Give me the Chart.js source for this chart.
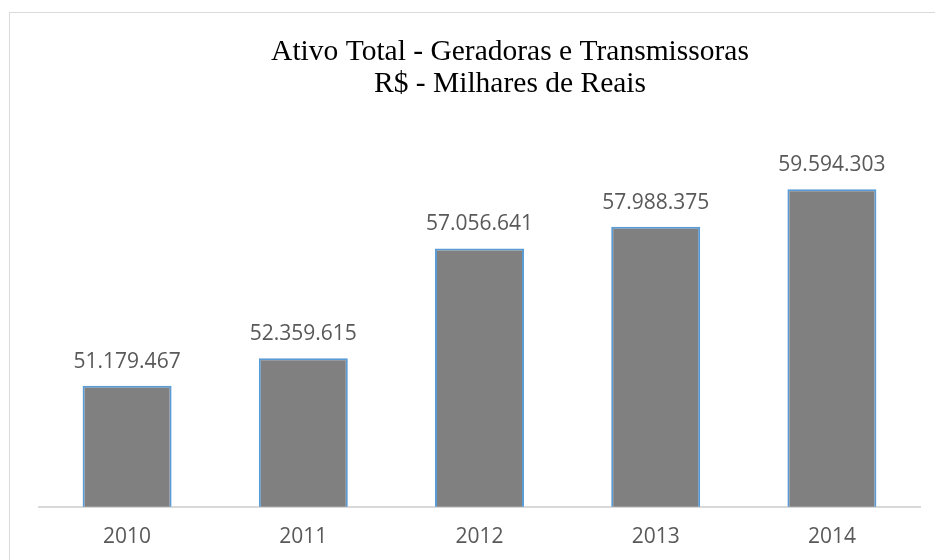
<!DOCTYPE html>
<html>
<head>
<meta charset="utf-8">
<script src="https://cdn.jsdelivr.net/npm/chart.js@4"></script>
<style>
  html, body { margin: 0; padding: 0; background: #fff; overflow: hidden; width: 935px; height: 560px; }
  #frame { position: absolute; left: 9px; top: 12px; width: 1100px; height: 700px; border: 1px solid #d9d9d9; }
  #chart { position: absolute; left: 10px; top: 13px; }
</style>
</head>
<body>
<div id="frame"></div>
<canvas id="chart" width="1000" height="560"></canvas>
<script>
// chart data
const years = ['2010', '2011', '2012', '2013', '2014'];
const ativoTotal = [51179467, 52359615, 57056641, 57988375, 59594303];
const titleLines = ['Ativo Total - Geradoras e Transmissoras', 'R$ - Milhares de Reais'];

// format like 51.179.467
function formatBR(v) {
    return String(Math.round(v)).replace(/\B(?=(\d{3})+(?!\d))/g, '.');
}

// draws the value above each bar
const valueLabels = {
    id: 'valueLabels',
    afterDatasetsDraw(chart) {
        const ctx = chart.ctx;
        const meta = chart.getDatasetMeta(0);
        ctx.save();
        ctx.font = '21px "Open Sans"';
        ctx.fillStyle = '#595959';
        ctx.textAlign = 'center';
        ctx.textBaseline = 'alphabetic';
        meta.data.forEach((bar, i) => {
            ctx.fillText(formatBR(chart.data.datasets[0].data[i]), bar.x, bar.y - 18);
        });
        ctx.restore();
    }
};

new Chart(document.getElementById('chart'), {
    type: 'bar',
    data: {
        labels: years,
        datasets: [{
            data: ativoTotal,
            backgroundColor: '#808080',
            borderColor: '#5B9BD5',
            borderWidth: 2,
            borderSkipped: false,
            barPercentage: 0.505,
            categoryPercentage: 1
        }]
    },
    options: {
        responsive: false,
        animation: false,
        layout: { padding: { left: 0, right: 0, top: 0, bottom: 5 } },
        plugins: {
            legend: { display: false },
            tooltip: { enabled: false },
            title: {
                display: true,
                text: titleLines,
                color: '#000',
                font: { family: '"Liberation Serif", "Times New Roman", serif', size: 29.5, weight: 'normal', lineHeight: 32 / 29.5 },
                padding: { top: 23, bottom: 33 }
            }
        },
        scales: {
            x: {
                grid: { display: false, drawTicks: false },
                border: { display: true, color: '#d9d9d9', width: 2 },
                ticks: {
                    color: '#595959',
                    font: { family: '"Open Sans"', size: 21 },
                    padding: 18
                }
            },
            y: {
                min: 46000000,
                max: 62000000,
                grid: { display: false, drawTicks: false },
                border: { display: false },
                ticks: { display: false },
                afterFit(scale) { scale.width = 29; }
            },
            yRight: {
                type: 'linear',
                position: 'right',
                grid: { display: false, drawTicks: false },
                border: { display: false },
                ticks: { display: false },
                afterFit(scale) { scale.width = 90; }
            }
        }
    },
    plugins: [valueLabels]
});
</script>
</body>
</html>
